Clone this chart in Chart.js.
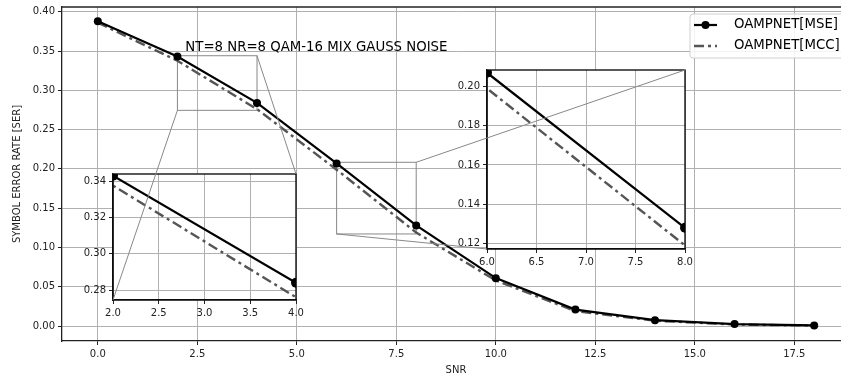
<!DOCTYPE html>
<html>
<head>
<meta charset="utf-8">
<script src="https://cdn.jsdelivr.net/npm/chart.js@4/dist/chart.umd.min.js"></script>
<style>
  html, body { margin: 0; padding: 0; overflow: hidden; background: #fff; width: 841px; height: 381px; }
  #wrap { position: relative; width: 854px; height: 381px; }
  canvas { position: absolute; }
  #links { pointer-events: none; }
</style>
</head>
<body>
<div id="wrap">
  <canvas id="main" width="854" height="386" style="left:0;top:-5px"></canvas>
  <canvas id="zoomA" width="235" height="158" style="left:73px;top:162px"></canvas>
  <canvas id="zoomB" width="250" height="211" style="left:447px;top:58px"></canvas>
  <canvas id="links" width="854" height="381" style="left:0;top:0"></canvas>
</div>
<script>
// SNR points and symbol error rates for the two training losses
const snr = [0, 2, 4, 6, 8, 10, 12, 14, 16, 18];
const serMse = [0.388, 0.343, 0.284, 0.207, 0.128, 0.061, 0.021, 0.0075, 0.0025, 0.0008];
const serMcc = [0.386, 0.3376, 0.276, 0.199, 0.119, 0.058, 0.019, 0.0068, 0.002, 0.0006];

const mainXTicks = [0, 2.5, 5, 7.5, 10, 12.5, 15, 17.5];
const mainYTicks = [0, 0.05, 0.1, 0.15, 0.2, 0.25, 0.3, 0.35, 0.4];

// zoomed windows: x range, y range, ticks
const zoomAX = [2, 4];
const zoomAY = [0.2745, 0.344];
const zoomAXTicks = [2, 2.5, 3, 3.5, 4];
const zoomAYTicks = [0.28, 0.30, 0.32, 0.34];

const zoomBX = [6, 8];
const zoomBY = [0.1172, 0.2084];
const zoomBXTicks = [6, 6.5, 7, 7.5, 8];
const zoomBYTicks = [0.12, 0.14, 0.16, 0.18, 0.20];

const labelMse = "OAMPNET[MSE]";
const labelMcc = "OAMPNET[MCC]";
const caption = "NT=8 NR=8 QAM-16 MIX GAUSS NOISE";

const FONT = "'DejaVu Sans', sans-serif";
const GRID = "#b0b0b0";
const INK = "#222";
const MCC_COLOR = "#555555";
const MCC_DASH = [10, 4, 3, 4];

function makeDatasets(radius) {
  return [
    {
      label: labelMse,
      data: snr.map((x, i) => ({ x: x, y: serMse[i] })),
      borderColor: "#000",
      backgroundColor: "#000",
      borderWidth: 2.2,
      pointRadius: radius,
      pointBorderWidth: 0,
      pointBackgroundColor: "#000",
      tension: 0,
    },
    {
      label: labelMcc,
      data: snr.map((x, i) => ({ x: x, y: serMcc[i] })),
      borderColor: MCC_COLOR,
      borderWidth: 2.4,
      borderDash: MCC_DASH,
      pointRadius: 0,
      tension: 0,
    },
  ];
}

function axis(min, max, ticks, digits, extra) {
  return Object.assign({
    type: "linear",
    min: min,
    max: max,
    afterBuildTicks: (s) => { s.ticks = ticks.map(v => ({ value: v })); },
    ticks: {
      autoSkip: false,
      maxRotation: 0,
      padding: 3,
      color: INK,
      font: { family: FONT, size: 10 },
      callback: (v) => Number(v).toFixed(digits),
    },
    grid: { color: GRID, lineWidth: 1, tickColor: INK, tickLength: 4 },
    border: { color: INK, width: 1.3 },
  }, extra || {});
}

// box of a zoomed window, drawn on the main axes
function drawWindow(ctx, chart, xr, yr) {
  const x = chart.scales.x, y = chart.scales.y;
  const x0 = x.getPixelForValue(xr[0]), x1 = x.getPixelForValue(xr[1]);
  const y0 = y.getPixelForValue(yr[1]), y1 = y.getPixelForValue(yr[0]);
  ctx.save();
  ctx.strokeStyle = "#888";
  ctx.lineWidth = 1;
  ctx.strokeRect(x0, y0, x1 - x0, y1 - y0);
  ctx.restore();
}

const mainDecor = {
  id: "mainDecor",
  beforeDatasetsDraw(chart) {
    drawWindow(chart.ctx, chart, zoomAX, zoomAY);
    drawWindow(chart.ctx, chart, zoomBX, zoomBY);
  },
  afterDatasetsDraw(chart) {
    const ctx = chart.ctx, a = chart.chartArea;
    ctx.save();
    // top spine
    ctx.strokeStyle = INK;
    ctx.lineWidth = 1.3;
    ctx.beginPath();
    ctx.moveTo(a.left, a.top);
    ctx.lineTo(a.right, a.top);
    ctx.stroke();

    // caption inside the axes
    ctx.fillStyle = "#000";
    ctx.font = "13.3px " + FONT;
    ctx.textBaseline = "alphabetic";
    ctx.fillText(caption, chart.scales.x.getPixelForValue(2.2), chart.scales.y.getPixelForValue(0.35));

    // legend
    const lx = a.right - 160, ly = a.top + 7, lw = 158, lh = 44;
    ctx.fillStyle = "rgba(255,255,255,0.85)";
    ctx.strokeStyle = "#d0d0d0";
    ctx.lineWidth = 1;
    ctx.beginPath();
    ctx.roundRect(lx, ly, lw, lh, 3);
    ctx.fill();
    ctx.stroke();

    const r1 = ly + 11, r2 = ly + 32;
    ctx.strokeStyle = "#000";
    ctx.lineWidth = 2.2;
    ctx.beginPath();
    ctx.moveTo(lx + 4, r1);
    ctx.lineTo(lx + 27, r1);
    ctx.stroke();
    ctx.fillStyle = "#000";
    ctx.beginPath();
    ctx.arc(lx + 15.5, r1, 4, 0, Math.PI * 2);
    ctx.fill();

    ctx.strokeStyle = MCC_COLOR;
    ctx.lineWidth = 2.4;
    ctx.setLineDash(MCC_DASH);
    ctx.beginPath();
    ctx.moveTo(lx + 4, r2);
    ctx.lineTo(lx + 27, r2);
    ctx.stroke();
    ctx.setLineDash([]);

    ctx.fillStyle = "#000";
    ctx.font = "13.3px " + FONT;
    ctx.textBaseline = "middle";
    ctx.fillText(labelMse, lx + 44, r1);
    ctx.fillText(labelMcc, lx + 44, r2);
    ctx.restore();
  },
};

const insetFrame = {
  id: "insetFrame",
  beforeDraw(chart) {
    const a = chart.chartArea, ctx = chart.ctx;
    ctx.save();
    ctx.fillStyle = "#fff";
    ctx.fillRect(a.left, a.top, a.right - a.left, a.bottom - a.top);
    ctx.restore();
  },
  afterDraw(chart) {
    const a = chart.chartArea, ctx = chart.ctx;
    ctx.save();
    ctx.strokeStyle = "#000";
    ctx.lineWidth = 1.3;
    ctx.strokeRect(a.left, a.top, a.right - a.left, a.bottom - a.top);
    ctx.restore();
  },
};

const mainChart = new Chart(document.getElementById("main"), {
  type: "line",
  data: { datasets: makeDatasets(4) },
  plugins: [mainDecor],
  options: {
    responsive: false,
    animation: false,
    layout: { padding: { top: 12, right: 4, left: 0, bottom: 0 } },
    plugins: { legend: { display: false }, tooltip: { enabled: false } },
    scales: {
      x: axis(-0.9, 18.9, mainXTicks, 1, {
        afterFit: (s) => { s.height = 40; },
        title: { display: true, text: "SNR", color: INK, font: { family: FONT, size: 10 }, padding: { top: 0, bottom: 5 } },
      }),
      y: axis(-0.019, 0.406, mainYTicks, 2, {
        afterFit: (s) => { s.width = 62; },
        title: { display: true, text: "SYMBOL ERROR RATE [SER]", color: INK, font: { family: FONT, size: 10 }, padding: { top: 11, bottom: 0 } },
      }),
    },
  },
});

function makeInset(id, xr, yr, xt, yt) {
  return new Chart(document.getElementById(id), {
    type: "line",
    data: { datasets: makeDatasets(5) },
    plugins: [insetFrame],
    options: {
      responsive: false,
      animation: false,
      layout: { padding: { top: 12, right: 12, left: 0, bottom: 0 } },
      plugins: { legend: { display: false }, tooltip: { enabled: false } },
      scales: {
        x: axis(xr[0], xr[1], xt, 1, { afterFit: (s) => { s.height = 20; } }),
        y: axis(yr[0], yr[1], yt, 2, { afterFit: (s) => { s.width = 40; } }),
      },
    },
  });
}

const insetA = makeInset("zoomA", zoomAX, zoomAY, zoomAXTicks, zoomAYTicks);
const insetB = makeInset("zoomB", zoomBX, zoomBY, zoomBXTicks, zoomBYTicks);

// connector lines from each window's corners to its inset's corners
function linkInset(ctx, inset, xr, yr) {
  const el = inset.canvas;
  const ox = el.offsetLeft, oy = el.offsetTop;
  const m = mainChart.canvas.offsetTop;
  const a = inset.chartArea;
  const mx = mainChart.scales.x, my = mainChart.scales.y;
  const pairs = [
    [[mx.getPixelForValue(xr[1]), m + my.getPixelForValue(yr[1])], [ox + a.right, oy + a.top]],
    [[mx.getPixelForValue(xr[0]), m + my.getPixelForValue(yr[0])], [ox + a.left, oy + a.bottom]],
  ];
  ctx.save();
  ctx.strokeStyle = "#888";
  ctx.lineWidth = 1;
  pairs.forEach(([p, q]) => {
    ctx.beginPath();
    ctx.moveTo(p[0], p[1]);
    ctx.lineTo(q[0], q[1]);
    ctx.stroke();
  });
  ctx.restore();
}

const linkCtx = document.getElementById("links").getContext("2d");
linkInset(linkCtx, insetA, zoomAX, zoomAY);
linkInset(linkCtx, insetB, zoomBX, zoomBY);
</script>
</body>
</html>
